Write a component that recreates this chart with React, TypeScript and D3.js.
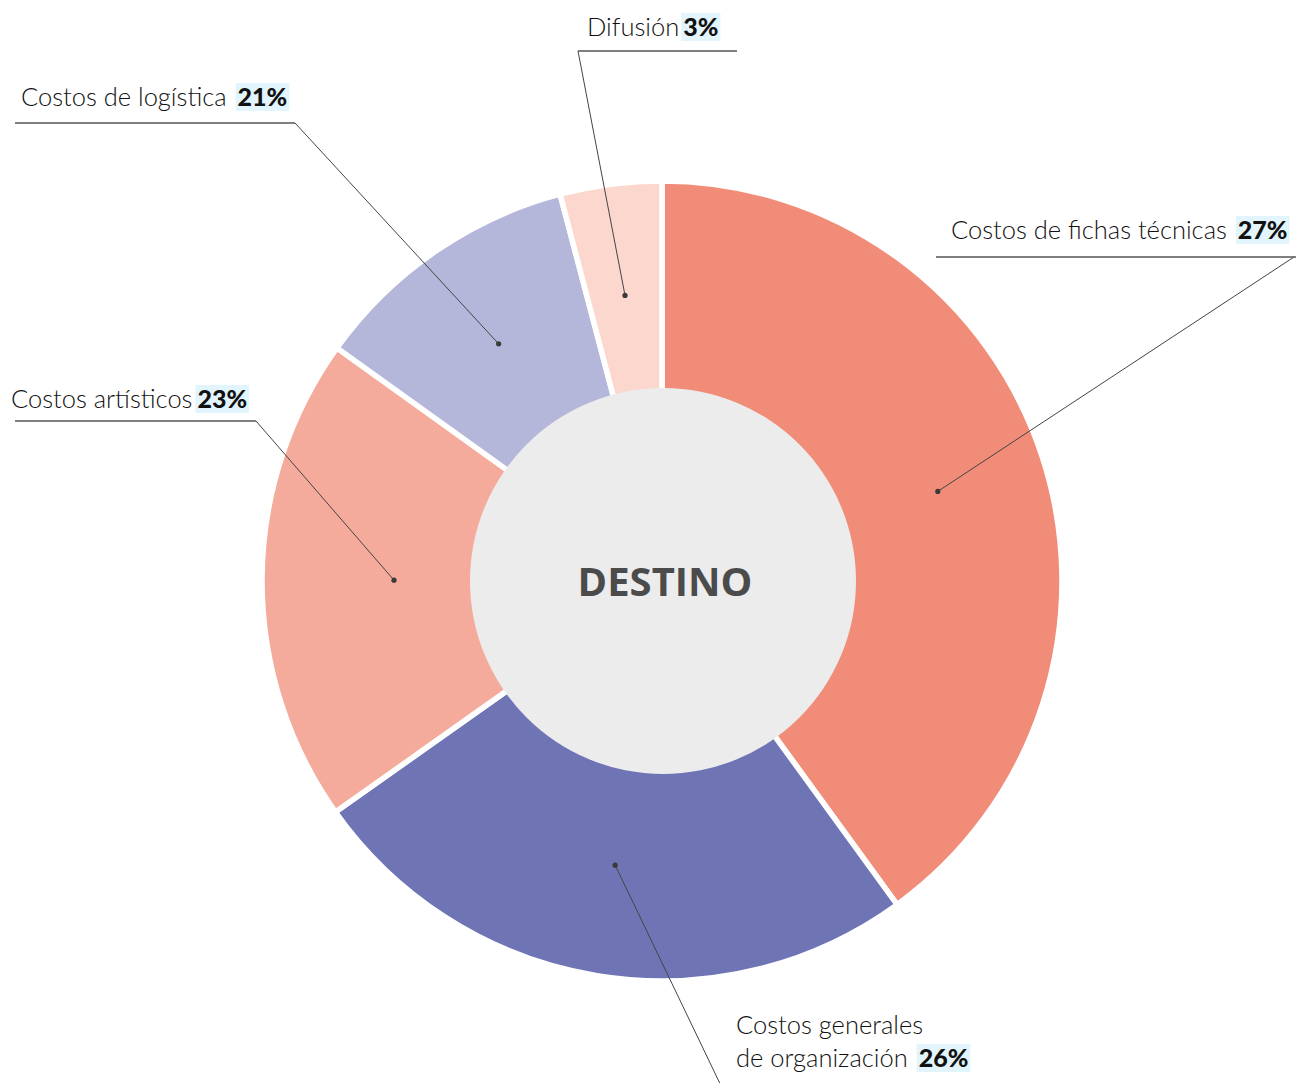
import * as d3 from "d3";
import { useEffect, useRef } from "react";

// slice sizes as drawn (share of the ring)
const categories = [
  "Costos de fichas técnicas",
  "Costos generales|de organización",
  "Costos artísticos",
  "Costos de logística",
  "Difusión",
];
const sliceValues = [40, 25.2, 19.7, 11, 4.1];
const pctLabels = ["27%", "26%", "23%", "21%", "3%"];
const colors = ["#F08C78", "#6F74B5", "#F5AB9B", "#B5B7DA", "#FBD7CE"];

// label placement (layout only)
const labelLayout = [
  { x: 951, y: 239, gap: 11, line: [936, 1296, 257], start: [1294, 257], r: 290 },
  { x: 736, y: 1034, gap: 11, line: null, start: [724, 1092], r: 288 },
  { x: 11, y: 408, gap: 5, line: [15, 256, 421], start: [256, 421], r: 268 },
  { x: 21, y: 106, gap: 11, line: [15, 295, 123], start: [295, 123], r: 288 },
  { x: 587, y: 36, gap: 4, line: [578, 737, 51], start: [578, 51], r: 288 },
];

const W = 1296;
const H = 1083;
const cx = 662;
const cy = 581;
const outerR = 400;
const innerR = 193;
const font = "Lato, 'Open Sans', sans-serif";

export default function App() {
  const ref = useRef<SVGSVGElement>(null);

  useEffect(() => {
    const svg = d3.select(ref.current);
    svg.selectAll("*").remove();

    const pie = d3
      .pie<number>()
      .sort(null)
      .value((d) => d);
    const arcs = pie(sliceValues);
    const arc = d3
      .arc<d3.PieArcDatum<number>>()
      .innerRadius(innerR - 5)
      .outerRadius(outerR);

    const g = svg.append("g").attr("transform", `translate(${cx},${cy})`);

    g.selectAll("path.slice")
      .data(arcs)
      .enter()
      .append("path")
      .attr("class", "slice")
      .attr("d", arc as any)
      .attr("fill", (d, i) => colors[i])
      .attr("stroke", "#fff")
      .attr("stroke-width", 5.5);

    g.append("circle").attr("cx", 1).attr("r", innerR).attr("fill", "#ECECEC");

    g.append("text")
      .attr("text-anchor", "middle")
      .attr("x", 3)
      .attr("y", 15)
      .attr("font-family", "'Open Sans', sans-serif")
      .attr("font-weight", 700)
      .attr("font-size", 40)
      .attr("fill", "#4B4B4B")
      .text("DESTINO");

    // leader lines + dots
    arcs.forEach((d, i) => {
      const L = labelLayout[i];
      const [mx, my] = d3
        .arc<d3.PieArcDatum<number>>()
        .innerRadius(L.r)
        .outerRadius(L.r)
        .centroid(d);
      svg
        .append("line")
        .attr("x1", L.start[0])
        .attr("y1", L.start[1])
        .attr("x2", cx + mx)
        .attr("y2", cy + my)
        .attr("stroke", "#444")
        .attr("stroke-width", 1);
      svg
        .append("circle")
        .attr("cx", cx + mx)
        .attr("cy", cy + my)
        .attr("r", 2.6)
        .attr("fill", "#3a3a3a");
      if (L.line) {
        svg
          .append("line")
          .attr("x1", L.line[0])
          .attr("x2", L.line[1])
          .attr("y1", L.line[2])
          .attr("y2", L.line[2])
          .attr("stroke", "#555")
          .attr("stroke-width", 1.3);
      }
    });

    // labels
    categories.forEach((name, i) => {
      const L = labelLayout[i];
      const lines = name.split("|");
      const lg = svg.append("g");
      let lastW = 0;
      lines.forEach((ln, j) => {
        const t = lg
          .append("text")
          .attr("x", L.x)
          .attr("y", L.y + j * 33)
          .attr("font-family", font)
          .attr("font-weight", 300)
          .attr("font-size", 25.5)
          .attr("fill", "#111")
          .text(ln);
        lastW = (t.node() as SVGTextElement).getComputedTextLength();
      });
      const py = L.y + (lines.length - 1) * 33;
      const px = L.x + lastW + L.gap;
      const rect = lg.insert("rect", ":first-child");
      const pt = lg
        .append("text")
        .attr("x", px)
        .attr("y", py)
        .attr("font-family", font)
        .attr("font-weight", 900)
        .attr("font-size", 25)
        .attr("fill", "#111")
        .text(pctLabels[i]);
      const pw = (pt.node() as SVGTextElement).getComputedTextLength();
      rect
        .attr("x", px - 2)
        .attr("y", py - 23)
        .attr("width", pw + 4)
        .attr("height", 28)
        .attr("fill", "#E2F5FC");
    });
  }, []);

  return (
    <svg
      ref={ref}
      width={W}
      height={H}
      style={{ position: "absolute", left: 0, top: 0, background: "#fff" }}
    />
  );
}
